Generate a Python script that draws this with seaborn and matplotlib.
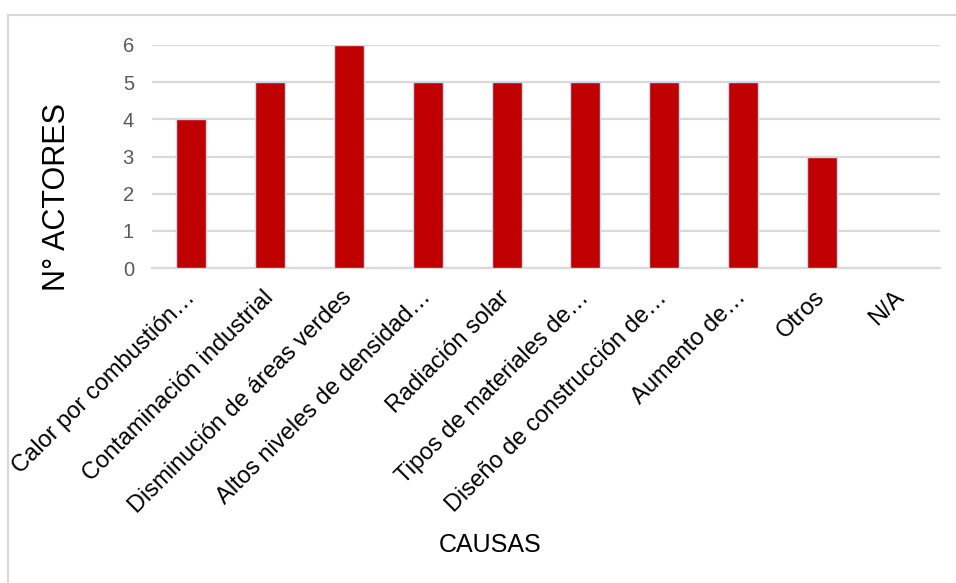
import matplotlib
matplotlib.use("Agg")
import matplotlib.pyplot as plt
from matplotlib.patches import Rectangle
import seaborn as sns
import pandas as pd

# Causes and the number of actors citing each one
causas = [
    "Calor por combustión…",
    "Contaminación industrial",
    "Disminución de áreas verdes",
    "Altos niveles de densidad…",
    "Radiación solar",
    "Tipos de materiales de…",
    "Diseño de construcción de…",
    "Aumento de…",
    "Otros",
    "N/A",
]
actores = [4, 5, 6, 5, 5, 5, 5, 5, 3, 0]
y_ticks = [0, 1, 2, 3, 4, 5, 6]

df = pd.DataFrame({"causa": causas, "actores": actores})

sns.set_theme(style="white")
plt.rcParams["font.family"] = ["Liberation Sans", "DejaVu Sans"]

W, H = 956, 583
fig = plt.figure(figsize=(W / 100, H / 100), dpi=100)

# light frame around the chart area
fig.patches.append(Rectangle((8 / W, -0.05), 1.1, 1 - 15 / H + 0.05,
                             transform=fig.transFigure, fill=False,
                             edgecolor="#D9D9D9", linewidth=1.5, zorder=0))

left, right = 152 / W, 940 / W
bottom, top = 1 - 268 / H, 1 - 45 / H
ax = fig.add_axes([left, bottom, right - left, top - bottom])

sns.barplot(data=df, x="causa", y="actores", ax=ax, color="#C00000",
            saturation=1, width=0.38, edgecolor="#C5DCF0", linewidth=1.0,
            zorder=3)

ax.set_ylim(0, 6)
ax.set_xlim(-0.5, len(causas) - 0.5)
ax.set_yticks(y_ticks)
ax.yaxis.grid(True, color="#D9D9D9", linewidth=1.6, zorder=0)
ax.xaxis.grid(False)
for s in ["left", "right", "top"]:
    ax.spines[s].set_visible(False)
ax.spines["bottom"].set_color("#D9D9D9")
ax.spines["bottom"].set_linewidth(1.6)
ax.tick_params(axis="both", length=0)
ax.tick_params(axis="y", labelsize=14.5, labelcolor="#595959", pad=13)

ax.set_xticks(range(len(causas)))
ax.set_xticklabels(causas, rotation=45, ha="right", va="center",
                   rotation_mode="anchor", fontsize=17, color="#000000")
ax.tick_params(axis="x", pad=19)

ax.set_xlabel("")
ax.set_ylabel("")
fig.text(57 / W, 1 - 197 / H, "N° ACTORES", rotation=90, ha="center",
         va="center", fontsize=22, color="#000000")
fig.text(490 / W, 1 - 545 / H, "CAUSAS", ha="center", va="center",
         fontsize=18, color="#000000")

fig.savefig("out.png", dpi=100, facecolor="white")
